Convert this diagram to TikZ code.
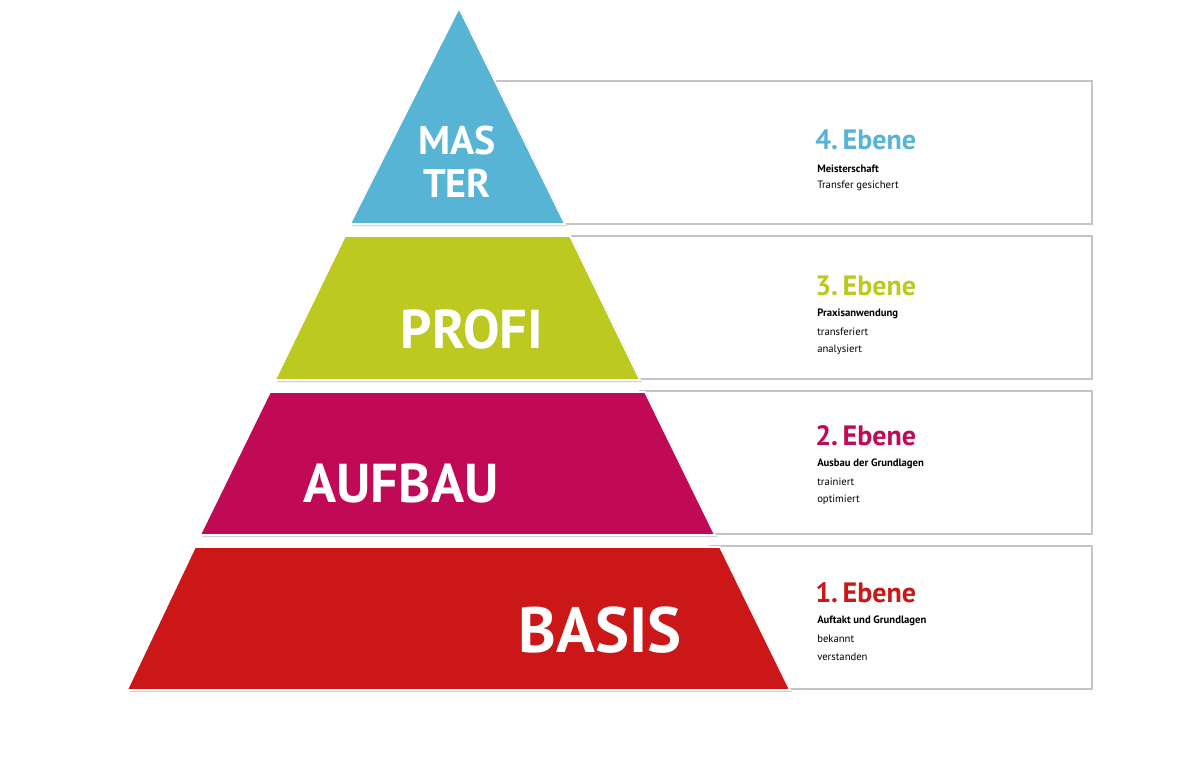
\documentclass[tikz,border=0pt]{standalone}
\usepackage{fontspec}
\setmainfont{PT Sans}
\definecolor{cblue}{HTML}{57B4D4}
\definecolor{cgreen}{HTML}{BCC920}
\definecolor{cmag}{HTML}{C00A55}
\definecolor{cred}{HTML}{CC1719}
\definecolor{cline}{HTML}{C4C4C4}
\begin{document}
\begin{tikzpicture}[x=0.75pt,y=-0.75pt,
  box/.style={draw=cline,line width=1pt,fill=white},
  tier/.style={draw=white,line width=1.2pt},
  shad/.style={fill=black!18},
  big/.style={text=white,font=\bfseries,inner sep=0pt},
  lvl/.style={anchor=west,inner sep=0pt,font=\bfseries\fontsize{21}{21}\selectfont},
  sub/.style={anchor=west,inner sep=0pt,font=\fontsize{8}{8}\selectfont},
  subb/.style={anchor=west,inner sep=0pt,font=\bfseries\fontsize{8}{8}\selectfont}]
\useasboundingbox (0,0) rectangle (1200,776);
\fill[white] (0,0) rectangle (1200,776);
% boxes
\draw[box] (450,81) rectangle (1092,224);
\draw[box] (560,236) rectangle (1092,379);
\draw[box] (640,391) rectangle (1092,534);
\draw[box] (710,546) rectangle (1092,689);
% shadows
\fill[shad] (461,10) -- (567,226) -- (352,226) -- cycle;
\fill[shad] (347,238) -- (572,238) -- (642,382) -- (277,382) -- cycle;
\fill[shad] (272,394) -- (647,394) -- (717,537) -- (202,537) -- cycle;
\fill[shad] (197,549) -- (722,549) -- (792,692) -- (129,692) -- cycle;
% tiers
\filldraw[tier,fill=cblue] (459,8) -- (565,224) -- (350,224) -- cycle;
\filldraw[tier,fill=cgreen] (345,236) -- (570,236) -- (640,380) -- (275,380) -- cycle;
\filldraw[tier,fill=cmag] (270,392) -- (645,392) -- (715,535) -- (200,535) -- cycle;
\filldraw[tier,fill=cred] (195,547) -- (720,547) -- (790,690) -- (127,690) -- cycle;
% big labels
\node[big,font=\bfseries\fontsize{30}{30}\selectfont,align=center] (t1) at (457,162) {MAS\\[2pt]TER};
\node[big,font=\bfseries\fontsize{41}{41}\selectfont] (t2) at (472,329) {PROFI};
\node[big,font=\bfseries\fontsize{41}{41}\selectfont] (t3) at (401,483) {AUFBAU};
\node[big,font=\bfseries\fontsize{48}{48}\selectfont] (t4) at (600,630) {BASIS};
% right texts
\node[lvl,text=cblue] (l4) at (815,140) {4.\,Ebene};
\node[subb] (l4a) at (817,169) {Meisterschaft};
\node[sub] (l4b) at (817,186) {Transfer gesichert};
\node[lvl,text=cgreen] (l3) at (815,286) {3.\,Ebene};
\node[subb] (l3a) at (817,314) {Praxisanwendung};
\node[sub] (l3b) at (817,332) {transferiert};
\node[sub] (l3c) at (817,350) {analysiert};
\node[lvl,text=cmag] (l2) at (815,436) {2.\,Ebene};
\node[subb] (l2a) at (817,464) {Ausbau der Grundlagen};
\node[sub] (l2b) at (817,482) {trainiert};
\node[sub] (l2c) at (817,500) {optimiert};
\node[lvl,text=cred] (l1) at (815,593) {1.\,Ebene};
\node[subb] (l1a) at (817,621) {Auftakt und Grundlagen};
\node[sub] (l1b) at (817,639) {bekannt};
\node[sub] (l1c) at (817,657) {verstanden};
\end{tikzpicture}
\end{document}
